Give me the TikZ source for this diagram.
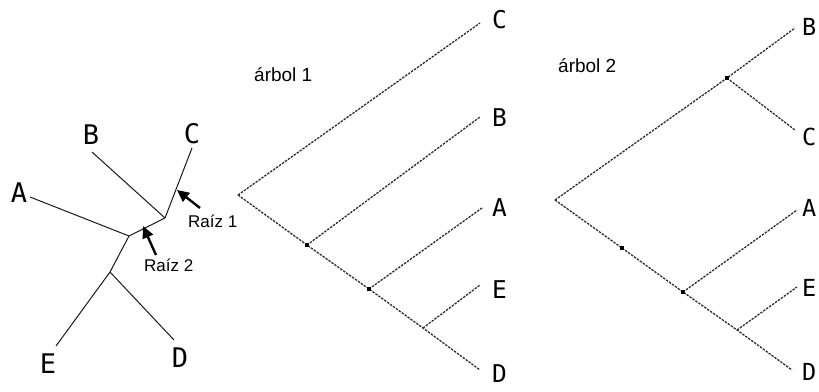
\documentclass[tikz,border=0pt]{standalone}
\usepackage{fontspec}
\setmainfont{Liberation Sans}
\newfontfamily\lblfont{DejaVu Sans Mono}
\usetikzlibrary{arrows.meta}
\tikzset{
  solidedge/.style={line width=1pt, black!90},
  dashedge/.style={line width=1.25pt, black!85, dash pattern=on 2.4pt off 1.2pt},
  bigleaf/.style={font=\lblfont\fontsize{27}{27}\selectfont, inner sep=0pt},
  leaf/.style={font=\lblfont\fontsize{24.5}{24.5}\selectfont, inner sep=0pt, anchor=west},
  leaftwo/.style={font=\lblfont\fontsize{23.5}{23.5}\selectfont, inner sep=0pt, anchor=west},
  note/.style={font=\fontsize{17}{17}\selectfont, inner sep=0pt, anchor=base west},
  title/.style={font=\fontsize{19}{19}\selectfont, inner sep=0pt, anchor=base west},
  rootarrow/.style={line width=2.4pt, -{Triangle[length=12pt,width=11pt]}},
  dot/.style={rectangle, fill=black, inner sep=0pt, minimum size=3.6pt}
}
\begin{document}
\begin{tikzpicture}[x=1pt,y=-1pt]
\clip (0,0) rectangle (819,391);
\fill[white] (0,0) rectangle (819,391);
% ---------------- left unrooted tree ----------------
\coordinate (ea) at (30,197);
\coordinate (eb) at (92,152);
\coordinate (ec) at (192,148);
\coordinate (ee) at (56,346);
\coordinate (ed) at (174,340);
\coordinate (j1) at (165,218);
\coordinate (j2) at (129,236);
\coordinate (j3) at (110,272);
\node[bigleaf] (LA) at (19,193) {A};
\node[bigleaf] (LB) at (91,135) {B};
\node[bigleaf] (LC) at (192,134) {C};
\node[bigleaf] (LE) at (48,364) {E};
\node[bigleaf] (LD) at (180,358) {D};
\draw[solidedge] (ea) -- (j2);
\draw[solidedge] (eb) -- (j1);
\draw[solidedge] (ec) -- (j1);
\draw[solidedge] (j1) -- (j2);
\draw[solidedge] (j2) -- (j3) -- (ee);
\draw[solidedge] (j3) -- (ed);
\coordinate (t1) at (200,208);
\coordinate (h1) at (177,190);
\coordinate (t2) at (156,255);
\coordinate (h2) at (143,226);
\draw[rootarrow] (t1) -- (h1);
\draw[rootarrow] (t2) -- (h2);
\node[note] (R1) at (188,227) {Raíz 1};
\node[note] (R2) at (144,271) {Raíz 2};
% ---------------- tree 1 ----------------
\node[title] (T1) at (254,81) {árbol 1};
\coordinate (r1) at (238,195);
\coordinate (n1) at (307,245);
\coordinate (n2) at (369,289);
\coordinate (n3) at (423,328);
\coordinate (c1) at (480,23);
\coordinate (b1) at (480,117);
\coordinate (a1) at (482,208);
\coordinate (e1) at (480,285);
\coordinate (d1) at (480,370);
\draw[dashedge] (r1) -- (c1);
\draw[dashedge] (r1) -- (n1) -- (n2) -- (n3) -- (d1);
\draw[dashedge] (n1) -- (b1);
\draw[dashedge] (n2) -- (a1);
\draw[dashedge] (n3) -- (e1);
\node[dot] at (n1) {};
\node[dot] at (n2) {};
\node[leaf] (C1) at (492,20) {C};
\node[leaf] (B1) at (492,118) {B};
\node[leaf] (A1) at (492,208) {A};
\node[leaf] (E1) at (492,290) {E};
\node[leaf] (D1) at (492,374) {D};
% ---------------- tree 2 ----------------
\node[title] (T2) at (558,72) {árbol 2};
\coordinate (r2) at (555,200);
\coordinate (m1) at (727,78);
\coordinate (m0) at (622,248);
\coordinate (m2) at (683,292);
\coordinate (m3) at (737,330);
\coordinate (b2) at (795,28);
\coordinate (c2) at (795,130);
\coordinate (a2) at (797,210);
\coordinate (e2) at (797,287);
\coordinate (d2) at (792,370);
\draw[dashedge] (r2) -- (m1) -- (b2);
\draw[dashedge] (m1) -- (c2);
\draw[dashedge] (r2) -- (m0) -- (m2) -- (m3) -- (d2);
\draw[dashedge] (m2) -- (a2);
\draw[dashedge] (m3) -- (e2);
\node[dot] at (m1) {};
\node[dot] at (m0) {};
\node[dot] at (m2) {};
\node[leaftwo] (B2) at (802,27) {B};
\node[leaftwo] (C2) at (802,137) {C};
\node[leaftwo] (A2) at (802,208) {A};
\node[leaftwo] (E2) at (802,288) {E};
\node[leaftwo] (D2) at (802,372) {D};
\end{tikzpicture}
\end{document}
